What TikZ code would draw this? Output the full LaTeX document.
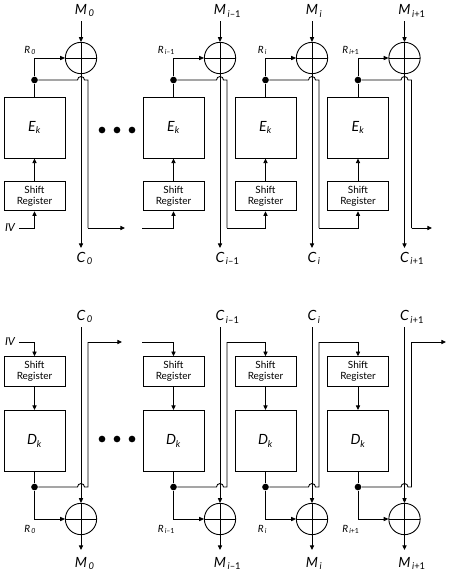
\documentclass[tikz,border=0pt]{standalone}
\usepackage{fontspec}
\setmainfont{Lato}
\usetikzlibrary{arrows.meta,positioning,calc}
\newcommand\lblsub[1]{\textsubscript{\,#1}}

\begin{document}
\begin{tikzpicture}[x=0.03cm,y=-0.03cm,line width=0.75pt,
  blk/.style={draw,minimum width=1.83cm,minimum height=1.83cm,font=\fontsize{12}{14}\selectfont\itshape},
  shreg/.style={draw,minimum width=1.83cm,minimum height=0.89cm,align=center,inner sep=0pt,font=\fontsize{8.5}{9}\selectfont},
  xor/.style={draw,circle,minimum size=0.94cm,inner sep=0pt,
    path picture={\draw (path picture bounding box.north)--(path picture bounding box.south)
      (path picture bounding box.west)--(path picture bounding box.east);}},
  jdot/.style={circle,fill,minimum size=0.2cm,inner sep=0pt},
  lab/.style={inner sep=3pt,font=\fontsize{12}{14}\selectfont\itshape},
  rlab/.style={inner sep=0pt,font=\fontsize{8.5}{10}\selectfont\itshape},
  ivlab/.style={inner sep=3pt,font=\fontsize{9.5}{11}\selectfont\itshape},
  arr/.style={-{Triangle[length=4pt,width=3.6pt]}}]
  \useasboundingbox (0,0) rectangle (450,574);

  % one stage per column: encryption on top, decryption below
  \foreach \n/\bx/\sb in {0/34.5/0,1/173.5/{i\textup{--1}},2/265.5/i,3/358/{i\textup{+1}}}{
    \pgfmathsetmacro\cx{\bx+46.5}
    \pgfmathsetmacro\fx{\bx+53.5}
    % encryption
    \node[blk] (enc\n) at (\bx,127.5) {E\textsubscript{k}};
    \node[shreg] (sre\n) at (\bx,196) {Shift\\Register};
    \node[xor] (xe\n) at (\cx,58) {};
    \node[jdot] (je\n) at (\bx,80) {};
    \node[lab,anchor=south] (me\n) at (\cx,21) {M\rlap{\lblsub{\sb}}};
    \node[lab,anchor=north] (ce\n) at (\cx,248) {C\rlap{\lblsub{\sb}}};
    \node[rlab,anchor=base east] (re\n) at (\bx+2,53) {R\lblsub{\sb}};
    \coordinate (fe\n) at (\fx,228);
    \draw[arr] (sre\n) -- (enc\n);
    \draw (enc\n) -- (je\n);
    \draw[arr] (je\n) |- (xe\n);
    \draw[arr] (me\n) -- (xe\n);
    \draw[arr] (xe\n) -- (ce\n);
    \draw (je\n) -- (\cx-3.5,80) arc[start angle=180,end angle=0,radius=0.105cm] -- (\fx,80) -- (fe\n);
    % decryption
    \node[shreg] (srd\n) at (\bx,371.5) {Shift\\Register};
    \node[blk] (dec\n) at (\bx,441) {D\textsubscript{k}};
    \node[jdot] (jd\n) at (\bx,487) {};
    \node[xor] (xd\n) at (\cx,519) {};
    \node[lab,anchor=south] (cd\n) at (\cx,327) {C\rlap{\lblsub{\sb}}};
    \node[lab,anchor=north,inner ysep=6pt] (md\n) at (\cx,550) {M\rlap{\lblsub{\sb}}};
    \node[rlab,anchor=base east] (rd\n) at (\bx+2,532) {R\lblsub{\sb}};
    \coordinate (fd\n) at (\fx,342);
    \draw[arr] (srd\n) -- (dec\n);
    \draw (dec\n) -- (jd\n);
    \draw[arr] (jd\n) |- (xd\n);
    \draw[arr] (cd\n) -- (xd\n);
    \draw[arr] (xd\n) -- (md\n);
    \draw (jd\n) -- (\cx-3.5,487) arc[start angle=180,end angle=0,radius=0.105cm] -- (\fx,487) -- (fd\n);
  }

  % chaining of the shift registers
  \node[ivlab] (ive) at (10,228) {IV};
  \node[ivlab] (ivd) at (10,342) {IV};
  \coordinate (oute0) at (125,228);
  \coordinate (ine1) at (142,228);
  \coordinate (oute3) at (432,228);
  \coordinate (outd0) at (122,342);
  \coordinate (ind1) at (142,342);
  \coordinate (outd3) at (446,342);
  \draw[arr] (ive) -| (sre0);
  \draw[arr] (fe0) -- (oute0);
  \draw[arr] (ine1) -| (sre1);
  \draw[arr] (fe1) -| (sre2);
  \draw[arr] (fe2) -| (sre3);
  \draw[arr] (fe3) -- (oute3);
  \draw[arr] (ivd) -| (srd0);
  \draw[arr] (fd0) -- (outd0);
  \draw[arr] (ind1) -| (srd1);
  \draw[arr] (fd1) -| (srd2);
  \draw[arr] (fd2) -| (srd3);
  \draw[arr] (fd3) -- (outd3);

  \foreach \x in {102,117,132}{
    \fill (\x,130) circle[radius=0.1cm];
    \fill (\x,439) circle[radius=0.1cm];
  }
\end{tikzpicture}
\end{document}
